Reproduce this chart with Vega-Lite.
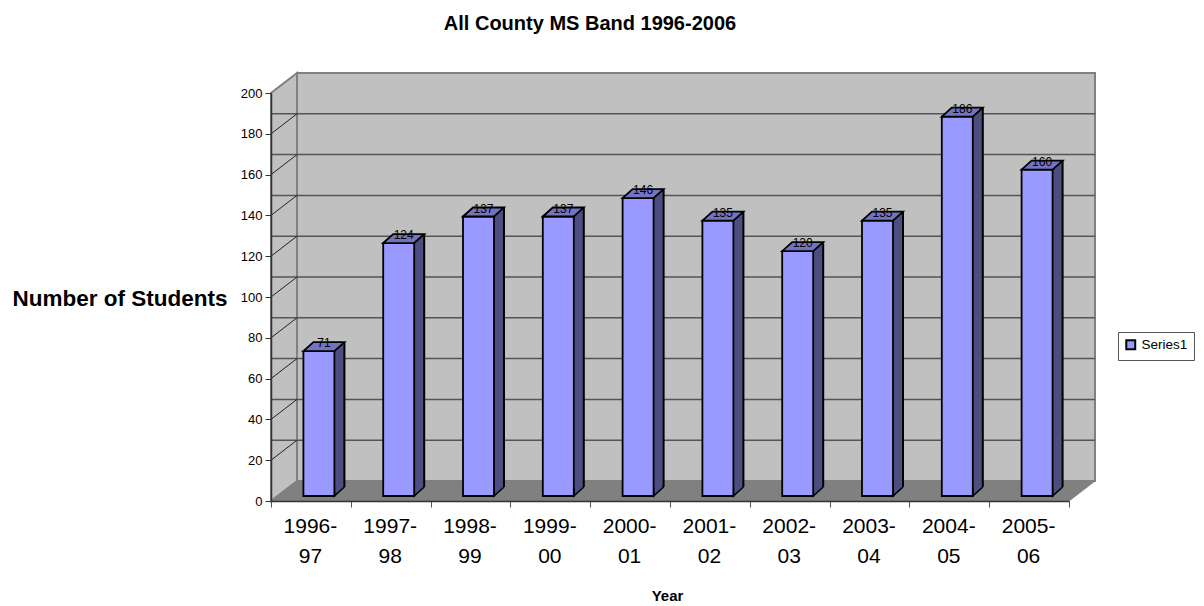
{
"$schema":"https://vega.github.io/schema/vega-lite/v6.json",
"width":798,"height":408,"autosize":"none",
"padding":{"left":271,"top":93,"right":135,"bottom":105},
"background":"white",
"title":{"text":"All County MS Band 1996-2006","font":"Liberation Sans","fontSize":20,"fontWeight":"bold","color":"#000","anchor":"middle","dx":-80,"offset":35},
"config":{"view":{"stroke":null},"font":"Liberation Sans"},
"datasets":{
"band":[{"year":"1996-97","students":71,"series":"Series1"},{"year":"1997-98","students":124,"series":"Series1"},{"year":"1998-99","students":137,"series":"Series1"},{"year":"1999-00","students":137,"series":"Series1"},{"year":"2000-01","students":146,"series":"Series1"},{"year":"2001-02","students":135,"series":"Series1"},{"year":"2002-03","students":120,"series":"Series1"},{"year":"2003-04","students":135,"series":"Series1"},{"year":"2004-05","students":186,"series":"Series1"},{"year":"2005-06","students":160,"series":"Series1"}],
"grid":[{"tick":20},{"tick":40},{"tick":60},{"tick":80},{"tick":100},{"tick":120},{"tick":140},{"tick":160},{"tick":180}],
"origin":[{"year":"1996-97","base":0}]
},
"encoding":{
"x":{"field":"year","type":"nominal","sort":null,"scale":{"paddingInner":0,"paddingOuter":0,"domain":["1996-97","1997-98","1998-99","1999-00","2000-01","2001-02","2002-03","2003-04","2004-05","2005-06"]},
"axis":{"title":"Year","titleFont":"Liberation Sans","titleFontSize":15,"titleFontWeight":"bold","titleColor":"#000","titleBaseline":"alphabetic","titleX":396,"titleY":99,"labelAngle":0,"labelFont":"Liberation Sans","labelFontSize":21,"labelColor":"#000","labelPadding":8,"labelOffset":-1,"labelLineHeight":30,"labelBaseline":"top","labelExpr":"[slice(datum.label,0,5),slice(datum.label,5)]","domainColor":"#333","domainWidth":1.5,"tickColor":"#555","tickSize":6,"tickWidth":1,"tickBand":"extent","zindex":1,"grid":false}}
},
"layer":[
{"data":{"name":"origin"},"mark":{"type":"point","filled":true,"opacity":1,"size":4,"fill":"#c0c0c0","stroke":"#808080","strokeWidth":2,"shape":"M26,-20 L824,-20 L824,-428 L26,-428 Z"},"encoding":{"x":{"field":"year","type":"nominal","bandPosition":0},"y":{"field":"base","type":"quantitative"}}},
{"data":{"name":"origin"},"mark":{"type":"point","filled":true,"opacity":1,"size":4,"fill":"#c0c0c0","stroke":"#808080","strokeWidth":2,"shape":"M0,0 L26,-20 L26,-428 L0,-408 Z"},"encoding":{"x":{"field":"year","type":"nominal","bandPosition":0},"y":{"field":"base","type":"quantitative"}}},
{"data":{"name":"origin"},"mark":{"type":"point","filled":true,"opacity":1,"size":4,"fill":"#808080","stroke":"#808080","strokeWidth":1,"shape":"M0,0 L26,-20 L824,-20 L798,0 Z"},"encoding":{"x":{"field":"year","type":"nominal","bandPosition":0},"y":{"field":"base","type":"quantitative"}}},
{"data":{"name":"grid"},"mark":{"type":"rule","color":"#555","strokeWidth":1.5,"xOffset":26,"yOffset":-20},"encoding":{"x":null,"y":{"field":"tick","type":"quantitative"}}},
{"data":{"name":"grid"},"transform":[{"lookup":"tick","from":{"data":{"name":"origin"},"key":"base","fields":["year"]},"default":"1996-97"}],"mark":{"type":"point","filled":false,"opacity":1,"size":4,"stroke":"#222","strokeWidth":1,"shape":"M0,0 L26,-20"},"encoding":{"x":{"field":"year","type":"nominal","bandPosition":0},"y":{"field":"tick","type":"quantitative"}}},
{"data":{"name":"band"},"mark":{"type":"bar","width":10,"fill":"#4d4d80","xOffset":28.5,"yOffset":-14,"y2Offset":-14},"encoding":{"y":{"field":"students","type":"quantitative"},"y2":{"datum":0}}},
{"data":{"name":"band"},"mark":{"type":"bar","width":2,"fill":"#000","xOffset":33.5,"yOffset":-14,"y2Offset":-14},"encoding":{"y":{"field":"students","type":"quantitative"},"y2":{"datum":0}}},
{"data":{"name":"band"},"mark":{"type":"point","filled":true,"opacity":1,"size":4,"fill":"#4d4d80","stroke":"#000","strokeWidth":1.5,"shape":"M0,-9 L0,0 L10,-9","xOffset":23.5,"yOffset":-5},"encoding":{"y":{"datum":0}}},
{"data":{"name":"band"},"mark":{"type":"bar","width":31,"stroke":"#000","strokeWidth":1.8,"xOffset":8,"yOffset":-5,"y2Offset":-5},"encoding":{"y":{"field":"students","type":"quantitative","scale":{"domain":[0,200]},
"axis":{"title":"Number of Students","titleFont":"Liberation Sans","titleFontSize":22.5,"titleFontWeight":"bold","titleColor":"#000","titleAngle":0,"titleAlign":"right","titleBaseline":"middle","titleX":-44,"titleY":205,"values":[0,20,40,60,80,100,120,140,160,180,200],"labelFont":"Liberation Sans","labelFontSize":13,"labelColor":"#000","labelPadding":3,"domainColor":"#333","domainWidth":1.5,"tickColor":"#333","tickSize":6,"tickWidth":1,"zindex":1,"grid":false}},
"y2":{"datum":0},
"fill":{"field":"series","type":"nominal","scale":{"range":["#9999ff"]},"legend":{"title":null,"orient":"none","legendX":847,"legendY":239,"symbolType":"square","symbolSize":80,"symbolStrokeColor":"#000","symbolStrokeWidth":2,"labelFont":"Liberation Sans","labelFontSize":13.5,"labelColor":"#000","labelOffset":4,"strokeColor":"#555","padding":6,"fillColor":"#fff"}}}},
{"data":{"name":"band"},"mark":{"type":"point","filled":true,"opacity":1,"size":4,"fill":"#7373c0","stroke":"#000","strokeWidth":1.8,"shape":"M0,0 L10,-9 L41,-9 L31,0 Z","xOffset":-7.5,"yOffset":-5},"encoding":{"y":{"field":"students","type":"quantitative"}}},
{"data":{"name":"band"},"mark":{"type":"text","font":"Liberation Sans","fontSize":12,"color":"#000","align":"center","baseline":"middle","xOffset":13,"yOffset":-13},"encoding":{"y":{"field":"students","type":"quantitative"},"text":{"field":"students","type":"quantitative"}}}
]
}
